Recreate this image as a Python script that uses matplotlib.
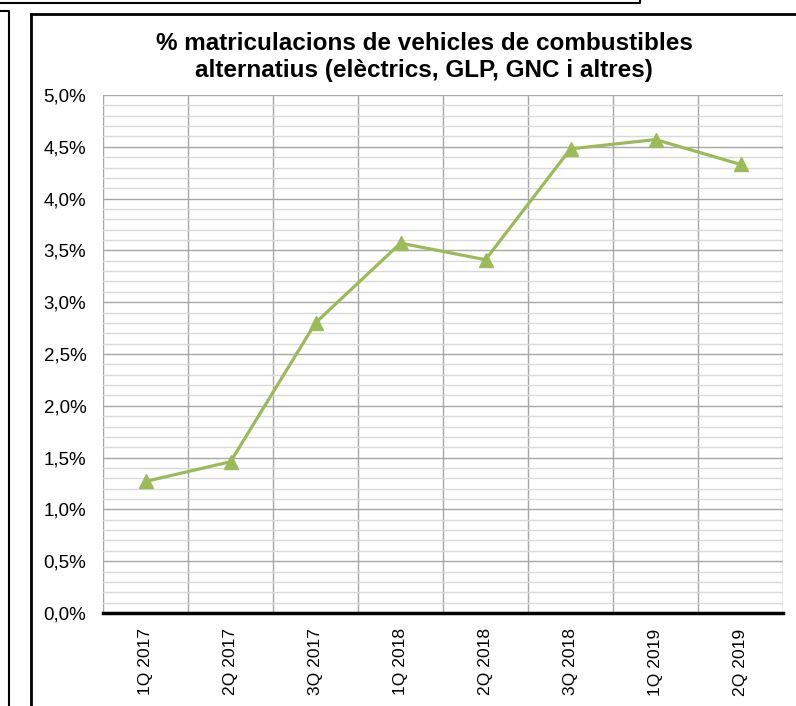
import matplotlib
matplotlib.use("Agg")
import matplotlib.pyplot as plt
from matplotlib.lines import Line2D
from matplotlib.ticker import MultipleLocator, FuncFormatter

quarters = ["1Q 2017", "2Q 2017", "3Q 2017", "1Q 2018", "2Q 2018",
            "3Q 2018", "1Q 2019", "2Q 2019"]
share = [1.27, 1.46, 2.80, 3.57, 3.41, 4.48, 4.57, 4.33]

plt.rcParams['font.family'] = ['Liberation Sans', 'DejaVu Sans']

W, H = 796, 706
fig = plt.figure(figsize=(W / 100, H / 100), dpi=100)

# frame lines around the chart (pixel coords -> figure fraction)
def fline(xs, ys, lw=2.0):
    fig.add_artist(Line2D([x / W for x in xs], [1 - y / H for y in ys],
                          color='black', lw=lw, transform=fig.transFigure))

fline([0, 640, 640], [2.5, 2.5, 0], lw=1.5)
fline([0, 9, 9], [11, 11, H], lw=1.5)
fline([31, 31], [H, 14], lw=2.0)
fline([31, W], [14, 14], lw=2.0)

ax = fig.add_axes([103 / W, 1 - 613 / H, 680 / W, 518 / H])
x = list(range(len(quarters)))
ax.plot(x, share, color='#9bbb59', lw=2.3, marker='^', markersize=10,
        markerfacecolor='#9bbb59', markeredgecolor='#9bbb59', zorder=3)

ax.set_xlim(-0.5, len(quarters) - 0.5)
ax.set_ylim(0, 5)
ax.yaxis.set_major_locator(MultipleLocator(0.5))
ax.yaxis.set_minor_locator(MultipleLocator(0.1))
ax.yaxis.set_major_formatter(FuncFormatter(lambda v, p: f"{v:.1f}%".replace('.', ',')))
ax.set_xticks(x)
ax.set_xticklabels(quarters, rotation=90, fontsize=12.6)
ax.set_xticks([i - 0.5 for i in range(len(quarters) + 1)], minor=True)
ax.tick_params(axis='y', which='both', length=0, labelsize=13.5, pad=12)
ax.tick_params(axis='x', which='both', length=0, pad=11)

ax.grid(axis='y', which='minor', color='#d9d9d9', lw=1.0)
ax.grid(axis='y', which='major', color='#a6a6a6', lw=1.0)
ax.grid(axis='x', which='minor', color='#a6a6a6', lw=1.0)
ax.set_axisbelow(True)

for s in ['top', 'right', 'left']:
    ax.spines[s].set_visible(False)
ax.spines['bottom'].set_color('black')
ax.spines['bottom'].set_linewidth(2.5)

fig.text(424 / W, 1 - 57 / H,
         "% matriculacions de vehicles de combustibles\nalternatius (elèctrics, GLP, GNC i altres)",
         ha='center', va='center', fontsize=17.5, fontweight='bold', linespacing=1.2)

fig.savefig("out.png", dpi=100)
